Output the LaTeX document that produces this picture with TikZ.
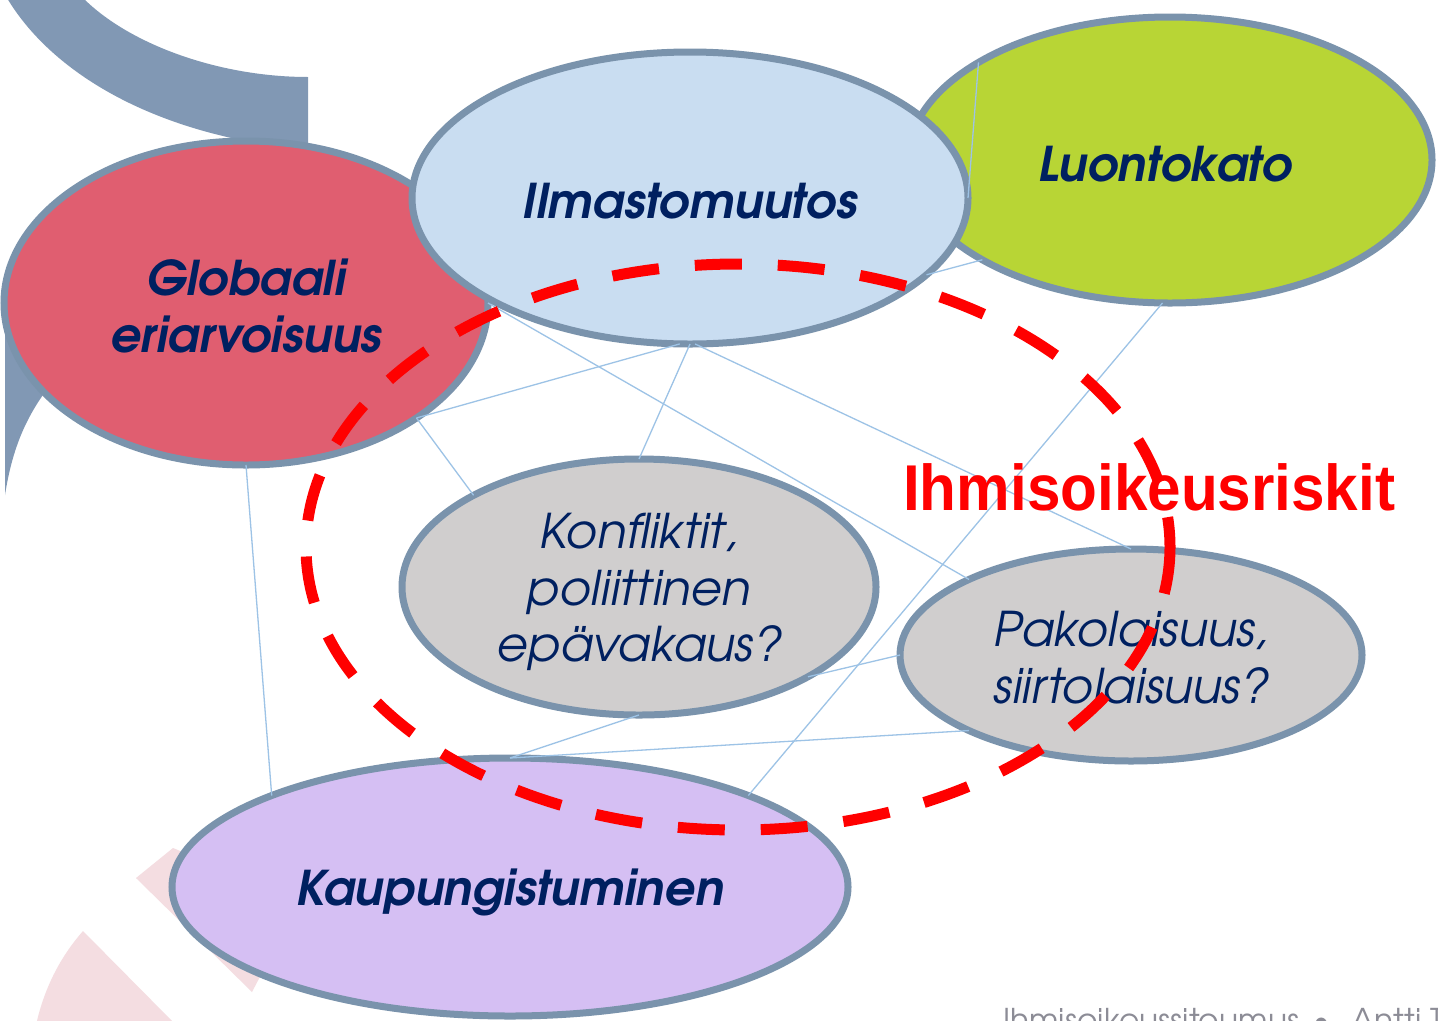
\documentclass[tikz,border=0pt]{standalone}
\usepackage{fontspec}
\usetikzlibrary{shapes.geometric}
\IfFontExistsTF{TeX Gyre Adventor}{\setmainfont{TeX Gyre Adventor}}{\setmainfont{Poppins}}
\newfontfamily\redfont{Liberation Sans}
\definecolor{bandc}{RGB}{129,152,180}
\definecolor{pinkc}{RGB}{244,221,225}
\definecolor{bordc}{RGB}{122,147,172}
\definecolor{linec}{RGB}{157,195,230}
\definecolor{navyc}{RGB}{0,32,96}
\definecolor{globc}{RGB}{224,94,112}
\definecolor{ilmc}{RGB}{201,221,241}
\definecolor{luonc}{RGB}{184,213,53}
\definecolor{greyc}{RGB}{208,206,206}
\definecolor{kaupc}{RGB}{213,191,243}
\definecolor{footc}{RGB}{140,140,150}
\begin{document}
\begin{tikzpicture}[x=1bp,y=-1bp,
  blob/.style={ellipse, draw=bordc, line width=7bp, inner sep=0pt, outer sep=0pt},
  lbl/.style={inner sep=0pt, text=navyc, align=center},
  bigtxt/.style={font=\fontsize{48}{57}\selectfont\bfseries\itshape},
  smalltxt/.style={font=\fontsize{48}{57}\selectfont\itshape},
  conn/.style={draw=linec, line width=1.3bp}]
\useasboundingbox (0,0) rectangle (1438,1020);
\clip (0,0) rectangle (1438,1020);
\fill[white] (0,0) rectangle (1438,1020);
% background decorations
\fill[bandc] (7,-2) .. controls (50,70) and (150,135) .. (308,150) -- (308,77) .. controls (220,77) and (130,45) .. (83,-2) -- cycle;
\fill[bandc] (5,320) -- (5,495) .. controls (12,450) and (25,420) .. (45,392) -- (80,330) -- cycle;
\fill[pinkc] (136,878) -- (173,848) -- (300,900) -- (252,992) -- cycle;
\fill[pinkc] (83,931) -- (176,1025) -- (36,1025) .. controls (45,985) and (62,955) .. (83,931) -- cycle;
% ellipses with labels
\node[blob, fill=luonc, minimum width=524bp, minimum height=286bp] (luon) at (1170,160) {};
\node[lbl, bigtxt] (luonT) at ([xshift=-5bp,yshift=-4bp]luon.center) {Luontokato};
\node[blob, fill=globc, minimum width=484bp, minimum height=324bp] (glob) at (246,303) {};
\node[lbl, bigtxt] (globT) at ([yshift=-3bp]glob.center) {Globaali\\eriarvoisuus};
\node[blob, fill=ilmc, minimum width=556bp, minimum height=292bp] (ilm) at (690,198) {};
\node[lbl, bigtxt] (ilmT) at ([yshift=-3bp]ilm.center) {Ilmastomuutos};
\node[blob, fill=greyc, minimum width=474bp, minimum height=256bp] (konf) at (639,587) {};
\node[lbl, smalltxt] (konfT) at ([yshift=-5bp]konf.center) {Konfliktit,\\poliittinen\\epävakaus?};
\node[blob, fill=greyc, minimum width=462bp, minimum height=212bp] (pako) at (1131,655) {};
\node[lbl, smalltxt] (pakoT) at ([yshift=-3bp]pako.center) {Pakolaisuus,\\siirtolaisuus?};
\node[blob, fill=kaupc, minimum width=676bp, minimum height=258bp] (kaup) at (510,887) {};
\node[lbl, bigtxt] (kaupT) at ([yshift=-5bp]kaup.center) {Kaupungistuminen};
% connectors
\draw[conn] (glob.-34) -- (ilm.-94);
\draw[conn] (glob.-34) -- (konf.151);
\draw[conn] (ilm.-90) -- (konf.90);
\draw[conn] (glob.0) -- (pako.155);
\draw[conn] (ilm.-88) -- (pako.90);
\draw[conn] (luon.-93) -- (kaup.21);
\draw[conn] (glob.-90) -- (kaup.159);
\draw[conn] (konf.-28) -- (pako.180);
\draw[conn] (konf.-90) -- (kaup.90);
\draw[conn] (kaup.90) -- (pako.205);
\draw[conn] (luon.153) -- (ilm.0);
\draw[conn] (luon.208) -- (ilm.-18);
% risk ellipse
\draw[red, line width=11bp, dash pattern=on 47bp off 36bp] (738,547) ellipse [x radius=432, y radius=283];
\node[anchor=base west, inner sep=0pt, text=red, font=\redfont\bfseries\fontsize{65}{70}\selectfont] (risk) at (903,510) {\scalebox{0.93}[1]{Ihmisoikeusriskit}};
% footer
\node[anchor=base west, inner sep=0pt, text=footc, font=\fontsize{31.5}{36}\selectfont] (foot) at (1003,1031) {Ihmisoikeussitoumus\hspace{14bp}\textbullet\hspace{22bp}Antti T};
\end{tikzpicture}
\end{document}
